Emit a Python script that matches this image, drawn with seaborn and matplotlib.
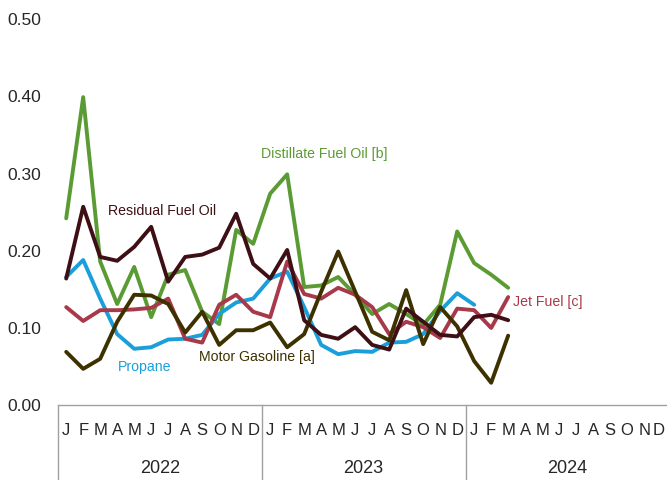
import numpy as np
import pandas as pd
import matplotlib
matplotlib.use('Agg')
import matplotlib.pyplot as plt
import matplotlib.transforms as mtransforms
import seaborn as sns

# monthly values, Jan 2022 onwards
distillate = [0.242, 0.399, 0.186, 0.131, 0.179, 0.114, 0.169, 0.175, 0.121, 0.105, 0.227, 0.209,
              0.274, 0.299, 0.153, 0.155, 0.166, 0.143, 0.118, 0.131, 0.118, 0.104, 0.130, 0.225,
              0.184, 0.169, 0.152]
residual = [0.164, 0.257, 0.192, 0.187, 0.205, 0.231, 0.160, 0.192, 0.195, 0.204, 0.248, 0.183,
            0.164, 0.201, 0.110, 0.091, 0.086, 0.101, 0.078, 0.072, 0.125, 0.108, 0.091, 0.089,
            0.114, 0.117, 0.110]
jet_fuel = [0.127, 0.109, 0.123, 0.123, 0.124, 0.126, 0.138, 0.086, 0.081, 0.130, 0.143, 0.121,
            0.114, 0.186, 0.144, 0.138, 0.152, 0.143, 0.127, 0.092, 0.108, 0.101, 0.087, 0.125,
            0.123, 0.100, 0.140]
propane = [0.166, 0.188, 0.138, 0.092, 0.073, 0.075, 0.085, 0.086, 0.091, 0.118, 0.133, 0.138,
           0.164, 0.173, 0.127, 0.078, 0.066, 0.070, 0.069, 0.081, 0.082, 0.092, 0.122, 0.145,
           0.130]
motor_gasoline = [0.069, 0.047, 0.060, 0.108, 0.143, 0.142, 0.131, 0.094, 0.121, 0.078, 0.097, 0.097,
                  0.107, 0.075, 0.092, 0.147, 0.199, 0.147, 0.095, 0.084, 0.149, 0.079, 0.127, 0.102,
                  0.057, 0.029, 0.090]

month_letters = ['J', 'F', 'M', 'A', 'M', 'J', 'J', 'A', 'S', 'O', 'N', 'D']
years = ['2022', '2023', '2024']

series = {
    'Distillate Fuel Oil [b]': distillate,
    'Propane': propane,
    'Jet Fuel [c]': jet_fuel,
    'Motor Gasoline [a]': motor_gasoline,
    'Residual Fuel Oil': residual,
}
colors = {
    'Distillate Fuel Oil [b]': '#5b9b33',
    'Propane': '#1a9fdb',
    'Jet Fuel [c]': '#a8394a',
    'Motor Gasoline [a]': '#3d3100',
    'Residual Fuel Oil': '#3e0f14',
}

rows = []
for name, vals in series.items():
    for i, v in enumerate(vals):
        rows.append({'month': i, 'value': v, 'series': name})
df = pd.DataFrame(rows)

sns.set_theme(style='white')
plt.rcParams['font.family'] = ['Liberation Sans', 'DejaVu Sans']

fig = plt.figure(figsize=(6.67, 4.8), dpi=100)
ax = fig.add_axes([0.0865, 0.156, 0.9175, 0.804])

sns.lineplot(data=df, x='month', y='value', hue='series', palette=colors,
             hue_order=list(series.keys()), linewidth=2.8, legend=False, ax=ax)

ax.set_xlim(-0.5, 35.5)
ax.set_ylim(0, 0.5)
ax.set_xlabel('')
ax.set_ylabel('')

ax.set_yticks(np.arange(0, 0.51, 0.1))
ax.set_yticklabels([f'{v:.2f}' for v in np.arange(0, 0.51, 0.1)], fontsize=12.5)
ax.tick_params(axis='y', length=0, pad=12)

ax.set_xticks(range(36))
ax.set_xticklabels(month_letters * 3, fontsize=12)
ax.tick_params(axis='x', direction='in', length=3.5, width=0.8, color='#a0a0a0', pad=13)
# nudge the last month letter so it stays inside the figure
last = ax.get_xticklabels()[-1]
last.set_transform(last.get_transform() + mtransforms.ScaledTranslation(-2 / 72, 0, fig.dpi_scale_trans))

for s in ['top', 'right', 'left']:
    ax.spines[s].set_visible(False)
ax.spines['bottom'].set_color('#a0a0a0')
ax.spines['bottom'].set_linewidth(1.0)

trans = mtransforms.blended_transform_factory(ax.transData, ax.transAxes)
for k in range(4):
    ax.plot([k * 12 - 0.5, k * 12 - 0.5], [0, -0.25], transform=trans, color='#a0a0a0',
            linewidth=1.0, clip_on=False)
for k, yr in enumerate(years):
    ax.text(k * 12 + 5.5, -0.163, yr, transform=trans, ha='center', va='center', fontsize=13)

# direct labels
lab = dict(ha='left', va='center', fontsize=10.2)
ax.text(11.47, 0.326, 'Distillate Fuel Oil [b]', color=colors['Distillate Fuel Oil [b]'], **lab)
ax.text(2.43, 0.251, 'Residual Fuel Oil', color=colors['Residual Fuel Oil'], **lab)
ax.text(26.3, 0.133, 'Jet Fuel [c]', color=colors['Jet Fuel [c]'], **lab)
ax.text(3.02, 0.050, 'Propane', color=colors['Propane'], **lab)
ax.text(7.83, 0.062, 'Motor Gasoline [a]', color=colors['Motor Gasoline [a]'], **lab)

fig.savefig('out.png', dpi=100)
